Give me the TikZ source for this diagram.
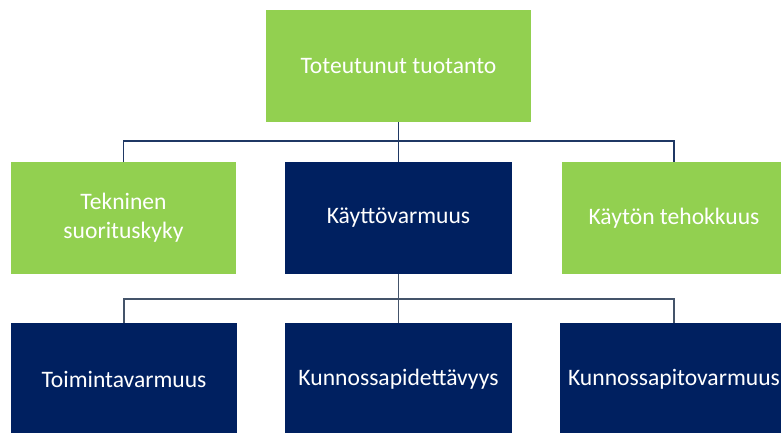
\documentclass[tikz,border=0pt]{standalone}
\usepackage{fontspec}
\setmainfont{Carlito}
\usepackage{xcolor}
\definecolor{vihrea}{HTML}{92D050}
\definecolor{tummansininen}{HTML}{002060}
\definecolor{viiva}{HTML}{1F3864}
\definecolor{harmaaviiva}{HTML}{44546A}

\begin{document}
\begin{tikzpicture}[x = 1pt, y = 1pt,
    laatikko/.style = {minimum width = 225pt, minimum height = 112pt,
        inner sep = 0pt, outer sep = 0pt, align = center, text = white,
        font = \fontsize{23.6}{29}\selectfont},
    vihrealaatikko/.style = {laatikko, fill = vihrea},
    sininenlaatikko/.style = {laatikko, fill = tummansininen},
    yhteys/.style = {line width = 1.5pt, viiva}]

    \useasboundingbox (0,0) rectangle (781,432);
    \clip (0,0) rectangle (781,432);

    % ylin taso
    \node[vihrealaatikko, minimum width = 265pt] (tuotanto) at (398.5,366) {Toteutunut tuotanto};

    % toinen taso
    \node[vihrealaatikko] (tekninen) at (123.5,214) {Tekninen\\suorituskyky};
    \node[sininenlaatikko, minimum width = 227pt] (kaytto) at (398.5,214) {Käyttövarmuus};
    \node[vihrealaatikko] (teho) at (674,214) {Käytön tehokkuus};

    % kolmas taso
    \node[sininenlaatikko, minimum width = 226pt] (toiminta) at (124,53) {Toimintavarmuus};
    \node[sininenlaatikko, minimum width = 227pt] (pidettavyys) at (398.5,53) {Kunnossapidettävyys};
    \node[sininenlaatikko, minimum width = 228pt] (pito) at (674,53) {Kunnossapitovarmuus};

    % yhteydet
    \coordinate (vayla1) at (0,291);
    \coordinate (vayla2) at (0,133);

    \draw[yhteys] (tuotanto.south) -- (kaytto.north);
    \draw[yhteys] (tekninen.north) |- (tuotanto.south |- vayla1) -| (teho.north);

    \draw[yhteys, harmaaviiva] (kaytto.south) -- (pidettavyys.north);
    \draw[yhteys, harmaaviiva] (toiminta.north) |- (kaytto.south |- vayla2) -| (pito.north);

\end{tikzpicture}
\end{document}
